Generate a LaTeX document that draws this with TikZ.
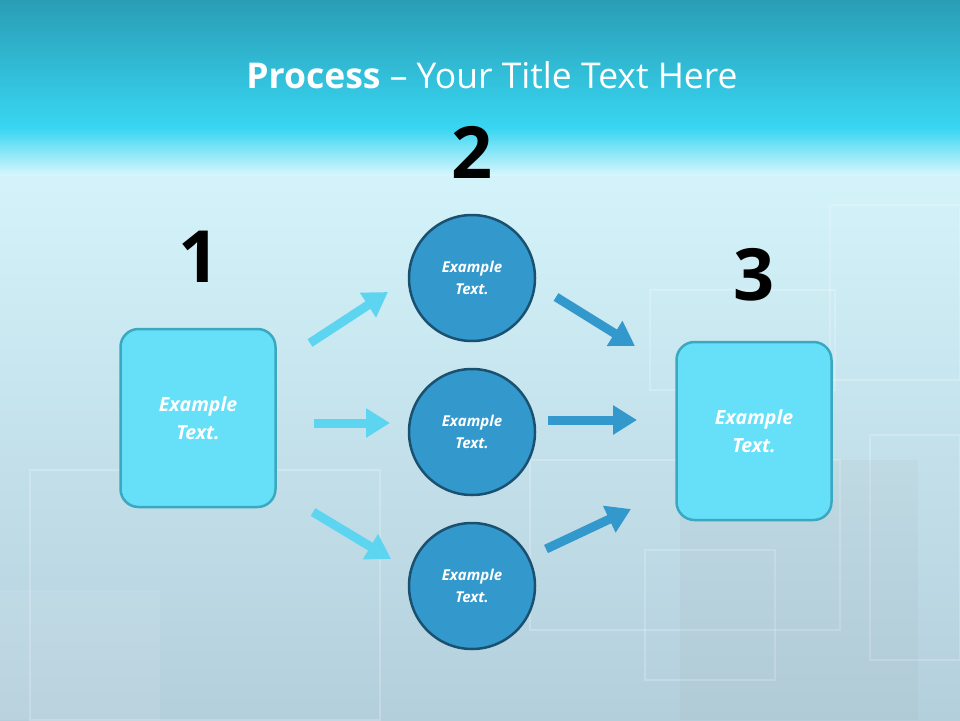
\documentclass[tikz,border=0pt]{standalone}
\usepackage{fontspec}
\setmainfont{Open Sans}
\usetikzlibrary{arrows.meta}
\definecolor{boxfill}{HTML}{66E0F8}
\definecolor{boxline}{HTML}{3AA8C0}
\definecolor{circfill}{HTML}{3399CC}
\definecolor{circline}{HTML}{1A5070}
\definecolor{lightarr}{HTML}{5DD5F0}
\definecolor{darkarr}{HTML}{3399CC}
\definecolor{bartop}{HTML}{2A9DB5}
\definecolor{barbot}{HTML}{38D6F2}
\definecolor{bgtop}{HTML}{D6F6FC}
\definecolor{bgbot}{HTML}{B4CFDC}
\begin{document}
\begin{tikzpicture}[x=1pt,y=-1pt,
  rbox/.style={draw=boxline,line width=2.5pt,fill=boxfill,rounded corners=18pt,minimum width=155pt,minimum height=178pt,text=white,font=\bfseries\itshape\fontsize{19.5}{28}\selectfont,align=center},
  circ/.style={circle,draw=circline,line width=2.5pt,fill=circfill,minimum size=126pt,text=white,font=\bfseries\itshape\fontsize{15}{22}\selectfont,align=center},
  num/.style={font=\bfseries\fontsize{72}{72}\selectfont,text=black},
  arr/.style={line width=9pt,-{Triangle[length=24pt,width=28pt]}},
  faint/.style={draw=white,opacity=0.2,line width=2pt}]
\useasboundingbox (0,0) rectangle (960,720);
\shade[top color=bgtop,bottom color=bgbot] (0,130) rectangle (960,720);
\shade[top color=bartop,bottom color=barbot] (0,0) rectangle (960,128);
\shade[top color=barbot,bottom color=bgtop] (0,128) rectangle (960,175);
\draw[faint] (30,470) rectangle (380,720);
\draw[faint] (530,460) rectangle (840,630);
\draw[faint] (650,290) rectangle (835,390);
\draw[faint] (830,205) rectangle (960,380);
\draw[faint] (870,435) rectangle (960,660);
\draw[faint] (645,550) rectangle (775,680);
\fill[white,opacity=0.08] (0,590) rectangle (160,720);
\fill[gray,opacity=0.06] (680,460) rectangle (918,720);
\node[text=white,font=\fontsize{35.5}{40}\selectfont] (title) at (492,75) {\textbf{Process} – Your Title Text Here};
\node[rbox] (b1) at (198,418) {Example\\Text.};
\node[rbox] (b3) at (754,431) {Example\\Text.};
\node[circ] (c1) at (472,278) {Example\\Text.};
\node[circ] (c2) at (472,432) {Example\\Text.};
\node[circ] (c3) at (472,586) {Example\\Text.};
\node[num] (n1) at (199,257) {1};
\node[num] (n2) at (472,152) {2};
\node[num] (n3) at (754,275) {3};
\coordinate (a1s) at (310,343); \coordinate (a1e) at (388,292);
\coordinate (a2s) at (314,423); \coordinate (a2e) at (390,423);
\coordinate (a3s) at (313,512); \coordinate (a3e) at (391,559);
\coordinate (d1s) at (556,297); \coordinate (d1e) at (635,346);
\coordinate (d2s) at (548,420); \coordinate (d2e) at (637,420);
\coordinate (d3s) at (546,549); \coordinate (d3e) at (631,509);
\draw[arr,lightarr] (a1s) -- (a1e);
\draw[arr,lightarr] (a2s) -- (a2e);
\draw[arr,lightarr] (a3s) -- (a3e);
\draw[arr,darkarr] (d1s) -- (d1e);
\draw[arr,darkarr] (d2s) -- (d2e);
\draw[arr,darkarr] (d3s) -- (d3e);
\end{tikzpicture}
\end{document}
